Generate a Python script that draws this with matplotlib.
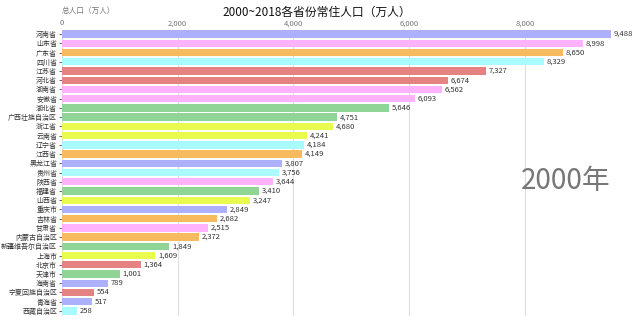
import matplotlib
matplotlib.use("Agg")
import matplotlib.pyplot as plt

plt.rcParams['font.family'] = ['Noto Sans CJK SC', 'DejaVu Sans']

provinces = ['河南省', '山东省', '广东省', '四川省', '江苏省', '河北省', '湖南省', '安徽省',
             '湖北省', '广西壮族自治区', '浙江省', '云南省', '辽宁省', '江西省', '黑龙江省',
             '贵州省', '陕西省', '福建省', '山西省', '重庆市', '吉林省', '甘肃省',
             '内蒙古自治区', '新疆维吾尔自治区', '上海市', '北京市', '天津市', '海南省',
             '宁夏回族自治区', '青海省', '西藏自治区']
population = [9488, 8998, 8650, 8329, 7327, 6674, 6562, 6093, 5646, 4751, 4680, 4241,
              4184, 4149, 3807, 3756, 3644, 3410, 3247, 2849, 2682, 2515, 2372, 1849,
              1609, 1364, 1001, 789, 554, 517, 258]
bar_colors = ['#adb0ff', '#ffb3ff', '#f7bb5f', '#aafbff', '#e48381', '#e48381', '#ffb3ff',
              '#ffb3ff', '#90d595', '#90d595', '#eafb50', '#eafb50', '#aafbff', '#f7bb5f',
              '#adb0ff', '#aafbff', '#ffb3ff', '#90d595', '#eafb50', '#adb0ff', '#f7bb5f',
              '#ffb3ff', '#f7bb5f', '#90d595', '#eafb50', '#e48381', '#90d595', '#adb0ff',
              '#e48381', '#adb0ff', '#aafbff']
x_ticks = [0, 2000, 4000, 6000, 8000]
year = '2000年'
title = '2000~2018各省份常住人口（万人）'
x_label = '总人口（万人）'

fig = plt.figure(figsize=(6.4, 3.21), dpi=100)
ax = fig.add_axes([62/640, 1-316/321, (611-62)/640, (316-29.5)/321])

ypos = list(range(len(provinces)))
ax.barh(ypos, population, height=0.8, color=bar_colors)
for y, v in zip(ypos, population):
    ax.text(v + 50, y, f'{v:,}', va='center', ha='left', fontsize=5.5, color='#333333')

ax.set_yticks(ypos)
ax.set_yticklabels(provinces, fontsize=5, color='#333333')
ax.set_ylim(30.55, -0.5)
ax.set_xlim(0, max(population))
ax.set_xticks(x_ticks)
ax.set_xticklabels([f'{t:,}' for t in x_ticks])
ax.xaxis.set_ticks_position('top')
ax.tick_params(axis='x', colors='#777777', labelsize=5.5, length=0, pad=1.5)
ax.tick_params(axis='y', length=2, width=0.6, pad=1.5, colors='#555555')
for lab in ax.get_yticklabels():
    lab.set_color('#333333')
ax.grid(which='major', axis='x', linestyle='-', color='#dddddd', linewidth=0.8)
ax.set_axisbelow(True)
for s in ax.spines.values():
    s.set_visible(False)

ax.text(0, 1.05, x_label, transform=ax.transAxes, fontsize=5.5, color='#777777', va='bottom')
fig.text(0.495, 0.962, title, ha='center', va='center', fontsize=8.5, color='#111111')
ax.text(0.9985, 0.42, year, transform=ax.transAxes, ha='right', va='bottom', fontsize=20, color='#777777')

fig.savefig('out.png', dpi=100)
